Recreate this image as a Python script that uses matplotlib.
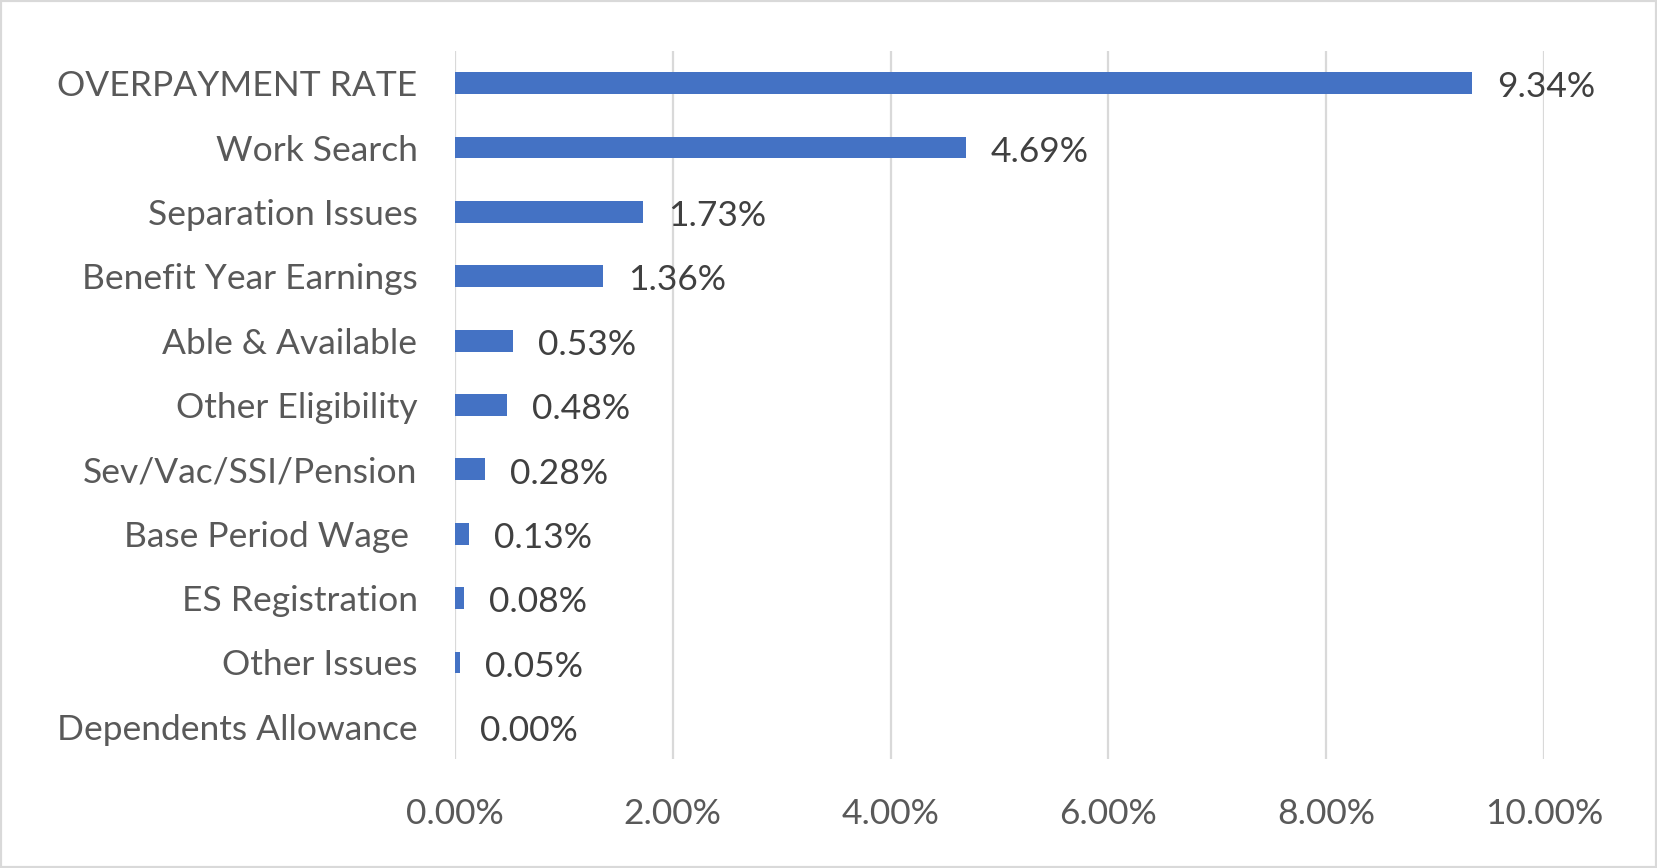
import matplotlib.pyplot as plt
from matplotlib.patches import Rectangle

plt.rcParams['font.family'] = ['Lato', 'DejaVu Sans']

categories = ['OVERPAYMENT RATE', 'Work Search', 'Separation Issues',
              'Benefit Year Earnings', 'Able & Available', 'Other Eligibility',
              'Sev/Vac/SSI/Pension', 'Base Period Wage ', 'ES Registration',
              'Other Issues', 'Dependents Allowance']
values = [9.34, 4.69, 1.73, 1.36, 0.53, 0.48, 0.28, 0.13, 0.08, 0.05, 0.00]
xticks = [0, 2, 4, 6, 8, 10]

fig = plt.figure(figsize=(16.57, 8.68), dpi=100)
ax = fig.add_axes([455/1657, 1-759/868, (1544-455)/1657, (759-51)/868])

ypos = list(range(len(categories)))
ax.barh(ypos, values, height=0.34, color='#4472C4', zorder=3)
for y, v in zip(ypos, values):
    ax.annotate('%.2f%%' % v, (v, y), xytext=(18, -3), textcoords='offset points',
                ha='left', va='center', fontsize=25.5, color='#404040')

ax.set_yticks(ypos)
ax.set_yticklabels(categories, fontsize=25.5, color='#595959')
ax.set_ylim(len(categories) - 0.5, -0.5)
ax.set_xlim(0, 10)
ax.set_xticks(xticks)
ax.set_xticklabels(['%.2f%%' % t for t in xticks], fontsize=25.5, color='#595959')
ax.tick_params(length=0)
ax.tick_params(axis='y', pad=27)
ax.tick_params(axis='x', pad=28)

ax.grid(axis='x', color='#d9d9d9', linewidth=1.6, zorder=0)
for s in ax.spines.values():
    s.set_visible(False)

fig.patches.append(Rectangle((0, 0), 1, 1, transform=fig.transFigure,
                             fill=False, edgecolor='#d9d9d9', linewidth=3))

fig.savefig('out.png', dpi=100)
